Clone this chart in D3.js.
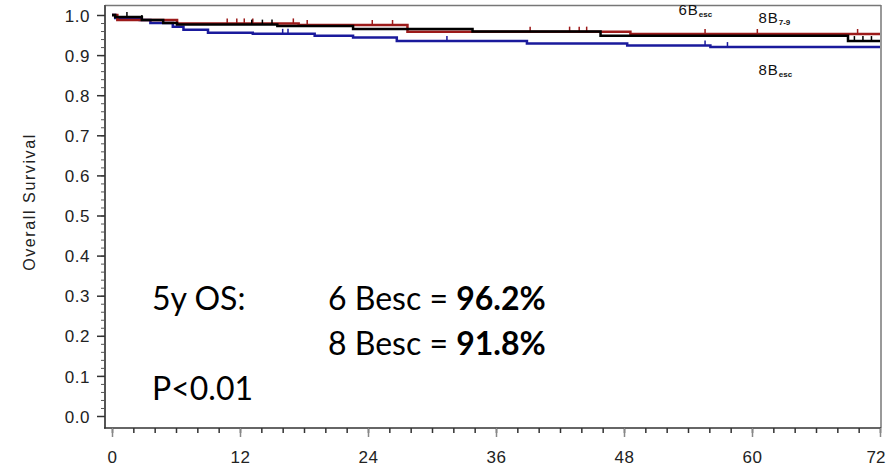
<!DOCTYPE html>
<html><head><meta charset="utf-8">
<script src="https://cdn.jsdelivr.net/npm/d3@7"></script>
<style>
body{margin:0;background:#fff;}
svg{display:block;}
</style></head>
<body>
<svg id="chart" width="887" height="476"></svg>
<script>
// ---- data (months, survival) ----
const xTicks = [0, 12, 24, 36, 48, 60, 72];
const yTicks = [0.0, 0.1, 0.2, 0.3, 0.4, 0.5, 0.6, 0.7, 0.8, 0.9, 1.0];
const blackTimes = [0, 0.3, 2.8, 4.8, 6.1, 15.5, 22.6, 33.8, 45.8, 69.0, 72];
const blackSurv  = [1.0, 0.995, 0.9875, 0.980, 0.976, 0.9726, 0.965, 0.959, 0.948, 0.935, 0.935];
const redTimes = [0, 0.5, 6.1, 17.5, 27.7, 48.6, 72];
const redSurv  = [1.0, 0.9875, 0.979, 0.975, 0.9585, 0.9526, 0.9526];
const blueTimes = [0, 0.3, 2.6, 3.6, 5.7, 6.7, 9.0, 13.2, 19.0, 22.6, 26.7, 38.9, 48.3, 56.1, 72];
const blueSurv  = [1.0, 0.9925, 0.9875, 0.980, 0.971, 0.963, 0.956, 0.953, 0.948, 0.944, 0.935, 0.929, 0.924, 0.920, 0.920];
const blackCensor = [1.4, 2.8, 13.1, 14.1, 15.0, 69.6, 70.4, 71.2];
const redCensor = [10.8, 11.7, 12.4, 13.2, 17.0, 18.3, 24.4, 26.3, 39.2, 42.9, 43.8, 44.5, 55.6, 60.5, 69.9];
const blueCensor = [16.0, 16.5, 31.4, 55.6, 57.7];
const curveLabels = [
  {main: "6B", sub: "esc", t: 53.1, s: 1.0},
  {main: "8B", sub: "7-9", t: 60.6, s: 0.98},
  {main: "8B", sub: "esc", t: 60.6, s: 0.850}
];
const annLines = [
  {left: "5y OS:", mid: "6 Besc = ", bold: "96.2%"},
  {left: "", mid: "8 Besc = ", bold: "91.8%"},
  {left: "P<0.01", mid: "", bold: ""}
];

const svg = d3.select("#chart");
const x = d3.scaleLinear().domain([0, 72]).range([112, 880]);
const y = d3.scaleLinear().domain([0, 1]).range([416, 15]);

// frame
svg.append("line").attr("x1", 105).attr("x2", 881).attr("y1", 5.5).attr("y2", 5.5).attr("stroke", "#777").attr("stroke-width", 1.5);
svg.append("line").attr("x1", 881).attr("x2", 881).attr("y1", 5).attr("y2", 428).attr("stroke", "#777").attr("stroke-width", 1.5);

// y axis
const yAx = svg.append("g").attr("transform", "translate(105,0)");
yAx.append("line").attr("x1", 0).attr("x2", 0).attr("y1", 5).attr("y2", 428.5).attr("stroke", "#111").attr("stroke-width", 2);
yAx.call(d3.axisLeft(y).tickValues(d3.range(0, 1.0001, 0.02)).tickSize(4).tickFormat(""))
   .call(g => g.select(".domain").remove())
   .call(g => g.selectAll("line").attr("stroke", "#555"));
const yMaj = svg.append("g").attr("transform", "translate(105,0)")
   .call(d3.axisLeft(y).tickValues(yTicks).tickSize(8).tickFormat(d3.format(".1f")).tickPadding(7));
yMaj.select(".domain").remove();
yMaj.selectAll("line").attr("stroke", "#333").attr("stroke-width", 1.5);
yMaj.selectAll("text").attr("font-family", "Liberation Sans, Arial, sans-serif").attr("font-size", 17).attr("fill", "#222").attr("letter-spacing", "0.5px").attr("dy", "0.36em");

// x axis
const xAx = svg.append("g").attr("transform", "translate(0,428)");
xAx.append("line").attr("x1", 104).attr("x2", 881).attr("y1", 0).attr("y2", 0).attr("stroke", "#111").attr("stroke-width", 2);
xAx.call(d3.axisBottom(x).tickValues(d3.range(0, 72.001, 2)).tickSize(5).tickFormat(""))
   .call(g => g.select(".domain").remove())
   .call(g => g.selectAll("line").attr("stroke", "#333").attr("stroke-width", 1.5));
const xMaj = svg.append("g").attr("transform", "translate(0,428)")
   .call(d3.axisBottom(x).tickValues(xTicks).tickSize(9).tickPadding(14));
xMaj.select(".domain").remove();
xMaj.selectAll("line").attr("stroke", "#888").attr("stroke-width", 1.5);
xMaj.selectAll("text").attr("font-family", "Liberation Sans, Arial, sans-serif").attr("font-size", 17).attr("fill", "#222").attr("letter-spacing", "0.5px");
xMaj.selectAll("text").filter(d => d === 72).attr("text-anchor", "end").attr("dx", "5px").attr("letter-spacing", "0px");

// y label
svg.append("text").attr("transform", "translate(35,202) rotate(-90)")
  .attr("text-anchor", "middle").attr("font-family", "Liberation Sans, Arial, sans-serif")
  .attr("font-size", 16).attr("letter-spacing", "1.6px").attr("fill", "#222").text("Overall Survival");

// curves
const step = d3.line().x(d => x(d[0])).y(d => y(d[1])).curve(d3.curveStepAfter);
function drawCurve(times, surv, censor, color) {
  const pts = times.map((t, i) => [t, surv[i]]);
  svg.append("path").datum(pts).attr("d", step).attr("fill", "none").attr("stroke", color).attr("stroke-width", 2.5);
  const survAt = t => { let s = surv[0]; times.forEach((tt, i) => { if (tt <= t) s = surv[i]; }); return s; };
  svg.append("g").selectAll("line").data(censor).join("line")
    .attr("x1", d => x(d)).attr("x2", d => x(d))
    .attr("y1", d => y(survAt(d))).attr("y2", d => y(survAt(d)) - 5)
    .attr("stroke", color).attr("stroke-width", 1.5);
}
drawCurve(blueTimes, blueSurv, blueCensor, "#1a1a9c");
drawCurve(redTimes, redSurv, redCensor, "#9c1a1a");
drawCurve(blackTimes, blackSurv, blackCensor, "#000");

// curve labels
curveLabels.forEach(l => {
  const t = svg.append("text").attr("x", x(l.t)).attr("y", y(l.s))
    .attr("font-family", "Liberation Sans, Arial, sans-serif").attr("font-size", 15).attr("fill", "#111").attr("letter-spacing", "1px");
  t.append("tspan").text(l.main);
  t.append("tspan").attr("font-size", 8).attr("font-weight", "bold").attr("dy", 2).attr("letter-spacing", "0px").text(l.sub);
});

// annotation
annLines.forEach((l, i) => {
  const by = 310 + i * 45;
  svg.append("text").attr("x", 152).attr("y", by).attr("font-family", "Lato, sans-serif").attr("font-size", 32).attr("fill", "#000").text(l.left);
  const t = svg.append("text").attr("x", 328).attr("y", by).attr("font-family", "Lato, sans-serif").attr("font-size", 32).attr("fill", "#000");
  t.append("tspan").text(l.mid);
  t.append("tspan").attr("font-weight", "bold").text(l.bold);
});
</script>
</body></html>
